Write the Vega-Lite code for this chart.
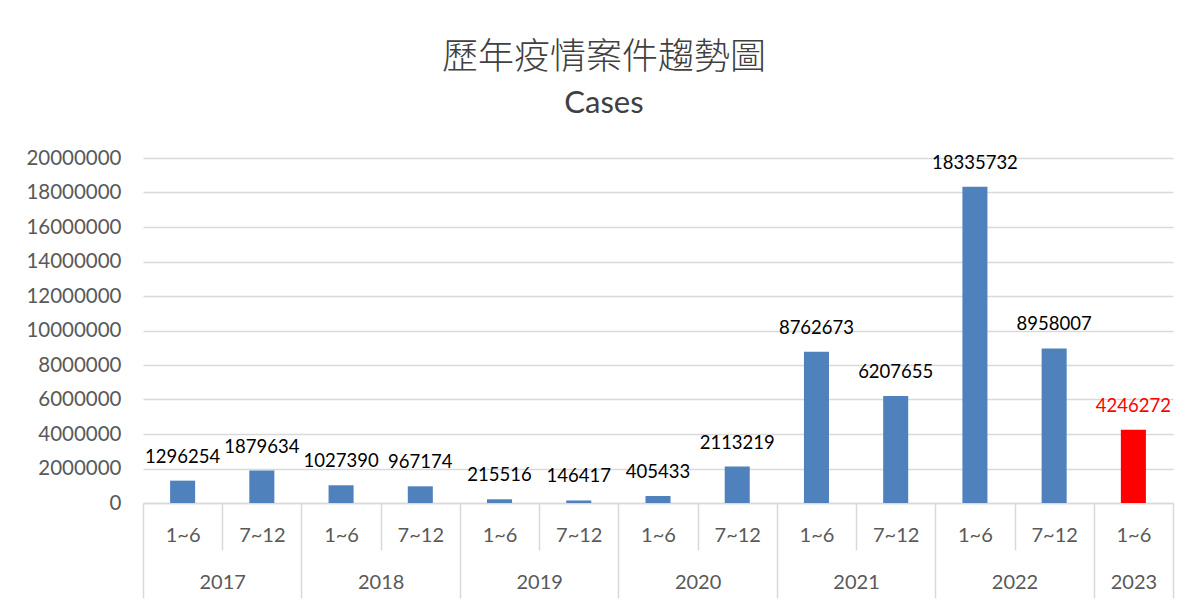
{
  "$schema": "https://vega.github.io/schema/vega-lite/v6.json",
  "autosize": "none",
  "width": 1030,
  "height": 345,
  "padding": {"left": 143, "top": 158, "right": 20, "bottom": 99},
  "background": "white",
  "config": {"view": {"stroke": null}},
  "title": {
    "text": "歷年疫情案件趨勢圖",
    "subtitle": "Cases",
    "anchor": "middle",
    "dx": -54,
    "offset": 28,
    "font": "Noto Sans CJK TC",
    "fontSize": 36,
    "fontWeight": 300,
    "color": "#404040",
    "subtitleFont": "Lato",
    "subtitleFontSize": 31,
    "subtitleColor": "#404040",
    "subtitlePadding": 12
  },
  "data": {
    "values": [
      {"year": "2017", "period": "1~6", "key": "2017 1~6", "cases": 1296254},
      {"year": "2017", "period": "7~12", "key": "2017 7~12", "cases": 1879634},
      {"year": "2018", "period": "1~6", "key": "2018 1~6", "cases": 1027390},
      {"year": "2018", "period": "7~12", "key": "2018 7~12", "cases": 967174},
      {"year": "2019", "period": "1~6", "key": "2019 1~6", "cases": 215516},
      {"year": "2019", "period": "7~12", "key": "2019 7~12", "cases": 146417},
      {"year": "2020", "period": "1~6", "key": "2020 1~6", "cases": 405433},
      {"year": "2020", "period": "7~12", "key": "2020 7~12", "cases": 2113219},
      {"year": "2021", "period": "1~6", "key": "2021 1~6", "cases": 8762673},
      {"year": "2021", "period": "7~12", "key": "2021 7~12", "cases": 6207655},
      {"year": "2022", "period": "1~6", "key": "2022 1~6", "cases": 18335732},
      {"year": "2022", "period": "7~12", "key": "2022 7~12", "cases": 8958007},
      {"year": "2023", "period": "1~6", "key": "2023 1~6", "cases": 4246272}
    ]
  },
  "layer": [
    {
      "mark": {"type": "bar", "width": {"band": 0.316}},
      "encoding": {
        "x": {
          "field": "key",
          "type": "nominal",
          "sort": null,
          "scale": {"paddingInner": 0, "paddingOuter": 0},
          "axis": {
            "orient": "bottom",
            "title": null,
            "labelAngle": 0,
            "labelExpr": "split(datum.value, ' ')[1]",
            "labelFont": "Lato",
            "labelFontSize": 20,
            "labelColor": "#595959",
            "labelBaseline": "top",
            "domainColor": "#D9D9D9",
            "domainWidth": 1.5,
            "tickBand": "extent",
            "tickColor": "#D9D9D9",
            "tickWidth": 1.5,
            "tickSize": {
              "condition": {"test": "datum.extra || datum.index < 0 || datum.index == 1 || indexof(datum.value + '', '7~12') >= 0 || indexof(datum.value + '', '2023') >= 0", "value": 95},
              "value": 47
            },
            "labelPadding": {
              "condition": {"test": "datum.extra || datum.index < 0 || datum.index == 1 || indexof(datum.value + '', '7~12') >= 0 || indexof(datum.value + '', '2023') >= 0", "value": -73},
              "value": -25
            }
          }
        },
        "y": {
          "field": "cases",
          "type": "quantitative",
          "scale": {"domain": [0, 20000000]},
          "axis": {
            "title": null,
            "values": [0, 2000000, 4000000, 6000000, 8000000, 10000000, 12000000, 14000000, 16000000, 18000000, 20000000],
            "labelOverlap": false,
            "format": "d",
            "labelFont": "Lato",
            "labelFontSize": 20.5,
            "labelColor": "#595959",
            "labelPadding": 22,
            "domain": false,
            "ticks": false,
            "gridColor": "#D9D9D9",
            "gridWidth": 1.5
          }
        },
        "color": {
          "condition": {"test": "datum.year === '2023'", "value": "#FF0000"},
          "value": "#4F81BD"
        }
      }
    },
    {
      "mark": {"type": "text", "baseline": "alphabetic", "dy": -18, "font": "Lato", "fontSize": 18.5},
      "encoding": {
        "x": {
          "field": "key",
          "type": "nominal",
          "sort": null,
          "scale": {"paddingInner": 0, "paddingOuter": 0},
          "axis": {
            "orient": "bottom",
            "title": null,
            "values": ["2017 1~6", "2018 1~6", "2019 1~6", "2020 1~6", "2021 1~6", "2022 1~6", "2023 1~6"],
            "labelAngle": 0,
            "labelExpr": "split(datum.value, ' ')[0]",
            "labelFont": "Lato",
            "labelFontSize": 20,
            "labelColor": "#595959",
            "labelBaseline": "top",
            "labelOffset": {
              "condition": {"test": "indexof(datum.value + '', '2023') >= 0", "value": 0},
              "value": 39.6
            },
            "labelPadding": 69,
            "domain": false,
            "ticks": false
          }
        },
        "y": {
          "field": "cases",
          "type": "quantitative",
          "axis": {
            "title": null,
            "values": [0, 2000000, 4000000, 6000000, 8000000, 10000000, 12000000, 14000000, 16000000, 18000000, 20000000],
            "labelOverlap": false,
            "format": "d",
            "labelFont": "Lato",
            "labelFontSize": 20.5,
            "labelColor": "#595959",
            "labelPadding": 22,
            "domain": false,
            "ticks": false,
            "gridColor": "#D9D9D9",
            "gridWidth": 1.5
          }
        },
        "text": {"field": "cases", "type": "quantitative", "format": "d"},
        "color": {
          "condition": {"test": "datum.year === '2023'", "value": "#FF0000"},
          "value": "#000000"
        }
      }
    }
  ],
  "resolve": {"scale": {"x": "independent"}}
}
